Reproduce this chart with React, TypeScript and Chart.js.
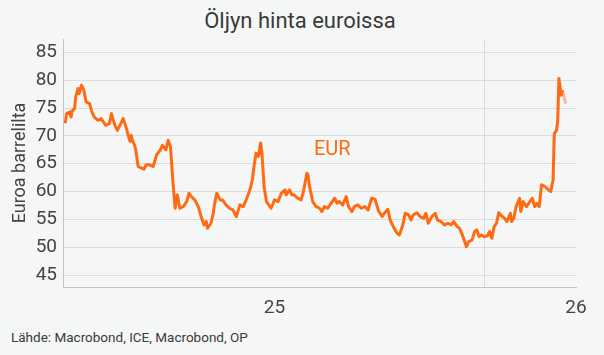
import React, { useEffect, useRef } from 'react';
import { Chart, registerables } from 'chart.js';

Chart.register(...registerables);

// Days since 1 Jan 2025
const days = [
  2, 3, 6, 7, 8, 10, 11, 13, 14, 16, 18, 20, 23, 25, 27, 30, 33, 36, 37, 40,
  42, 43, 45, 47, 50, 52, 55, 56, 58, 59, 60, 62, 63, 65, 68, 70, 72, 75, 78, 81,
  84, 86, 89, 91, 93, 95, 97, 99, 101, 104, 107, 109, 111, 114, 117, 120, 122, 124, 125, 128,
  130, 131, 133, 136, 138, 141, 144, 147, 150, 153, 156, 159, 162, 164, 165, 167, 169, 171, 172, 174,
  176, 180, 183, 186, 189, 192, 193, 196, 198, 200, 203, 206, 208, 211, 212, 213, 216, 219, 222, 224,
  226, 229, 232, 235, 237, 239, 242, 245, 247, 250, 252, 255, 258, 261, 264, 267, 270, 273, 276, 278,
  281, 283, 285, 289, 291, 294, 296, 299, 301, 303, 306, 309, 312, 314, 316, 319, 322, 324, 327, 330,
  333, 336, 338, 341, 343, 345, 347, 349, 351, 354, 356, 358, 360, 362, 364, 367, 369, 371, 373, 375,
  377, 380, 382, 384, 387, 388, 390, 392, 395, 396, 398, 401, 403, 406, 408, 410, 412, 414, 417, 420,
  422, 424, 425, 427, 428, 429, 431, 432, 433, 435,
];

// Brent crude in euros per barrel
const eurPrice = [
  72.3, 74.0, 74.3, 73.4, 74.5, 74.9, 77.0, 78.5, 77.6, 79.1, 78.2, 76.1, 75.8, 74.3, 73.4, 72.8, 73.1, 72.2, 71.9, 72.2,
  74.0, 73.1, 71.9, 71.0, 72.2, 73.1, 71.3, 70.4, 69.0, 70.1, 69.2, 68.3, 67.4, 64.5, 64.2, 64.0, 64.8, 64.8, 64.5, 66.6,
  67.4, 68.3, 67.5, 69.2, 68.0, 62.0, 57.0, 59.4, 57.0, 57.3, 58.2, 59.7, 59.1, 58.5, 57.3, 55.2, 54.0, 54.6, 53.4, 54.3,
  56.1, 57.6, 59.7, 58.5, 58.5, 57.6, 57.0, 56.7, 55.5, 57.6, 57.3, 58.8, 60.5, 62.3, 64.2, 66.9, 66.3, 68.7, 67.2, 60.8,
  58.2, 57.0, 58.5, 58.2, 59.7, 60.3, 59.4, 60.3, 59.4, 59.4, 58.8, 58.5, 60.0, 63.3, 63.0, 61.2, 58.2, 57.3, 57.0, 56.4,
  57.3, 57.0, 57.9, 58.8, 57.9, 58.2, 57.6, 59.1, 57.3, 56.4, 57.3, 57.6, 57.0, 57.3, 56.7, 58.8, 58.6, 56.5, 55.5, 56.1,
  56.8, 54.9, 54.0, 52.5, 52.2, 54.0, 56.1, 55.8, 54.9, 55.8, 56.2, 55.5, 55.2, 56.1, 54.3, 55.5, 56.1, 54.9, 54.6, 54.0,
  54.3, 54.0, 54.6, 53.7, 53.4, 52.5, 51.3, 50.1, 51.0, 51.3, 52.8, 53.1, 51.9, 52.2, 51.9, 52.0, 52.8, 51.6, 53.7, 54.3,
  56.2, 55.5, 55.2, 54.6, 56.1, 54.6, 55.2, 57.3, 58.8, 56.4, 58.2, 57.3, 57.9, 58.8, 57.3, 57.9, 57.3, 61.2, 60.9, 60.3,
  60.0, 62.1, 70.4, 71.0, 72.8, 80.3, 77.3, 78.2, 77.3, 75.8,
];

const yTickValues = [45, 50, 55, 60, 65, 70, 75, 80, 85];
const xTickDays = [183, 365, 443.8];
const xTickLabels = ['25', '', '26'];
const yearStartDay = 365;

const ORANGE = '#ff6a13';
const ORANGE_LIGHT = 'rgba(255,106,19,0.45)';
const TEXT = '#444444';
const FONT = 'Roboto, "Noto Sans", sans-serif';

export default function App() {
  const ref = useRef<HTMLCanvasElement>(null);

  useEffect(() => {
    const canvas = ref.current;
    if (!canvas) return;
    const n = eurPrice.length;

    const labelPlugin = {
      id: 'eurLabel',
      afterDatasetsDraw(chart: any) {
        const { ctx, scales } = chart;
        const x = scales.x.getPixelForValue(233);
        const y = scales.y.getPixelForValue(67.4);
        ctx.save();
        ctx.fillStyle = ORANGE;
        ctx.font = '20px ' + FONT;
        ctx.textAlign = 'center';
        ctx.textBaseline = 'middle';
        ctx.fillText('EUR', x, y);
        ctx.restore();
      },
    };

    const chart = new Chart(canvas, {
      type: 'line',
      data: {
        datasets: [
          {
            label: 'EUR',
            data: days.map((d, i) => ({ x: d, y: eurPrice[i] })),
            borderColor: ORANGE,
            borderWidth: 3,
            pointRadius: 0,
            tension: 0,
            borderJoinStyle: 'round',
            segment: {
              borderColor: (c: any) => (c.p1DataIndex >= n - 2 ? ORANGE_LIGHT : ORANGE),
            },
          },
        ],
      },
      options: {
        animation: false,
        responsive: true,
        maintainAspectRatio: false,
        layout: { padding: { top: 39, right: 28, bottom: 28, left: 0 } },
        plugins: {
          legend: { display: false },
          tooltip: { enabled: false },
          title: { display: false },
        },
        scales: {
          x: {
            type: 'linear',
            min: 0,
            max: 443.8,
            afterBuildTicks: (s: any) => {
              s.ticks = xTickDays.map((v) => ({ value: v }));
            },
            afterFit: (s: any) => {
              s.height = 40;
            },
            ticks: {
              autoSkip: false,
              maxRotation: 0,
              padding: 10,
              color: TEXT,
              font: { size: 19, family: FONT },
              callback: (v: any) => {
                const i = xTickDays.indexOf(Number(v));
                return i >= 0 ? xTickLabels[i] : '';
              },
            },
            grid: {
              drawTicks: false,
              color: (c: any) => (c.tick && c.tick.value === yearStartDay ? '#d8d8d8' : 'rgba(0,0,0,0)'),
            },
            border: { color: '#c4c4c4' },
          },
          y: {
            min: 42.85,
            max: 87.4,
            afterBuildTicks: (s: any) => {
              s.ticks = yTickValues.map((v) => ({ value: v }));
            },
            afterFit: (s: any) => {
              s.width = 63;
            },
            ticks: {
              padding: 6,
              color: TEXT,
              font: { size: 19, family: FONT },
            },
            grid: { drawTicks: false, color: '#dcdcdc' },
            border: { color: '#c4c4c4' },
            title: {
              display: true,
              text: 'Euroa barrelilta',
              color: TEXT,
              font: { size: 18, family: FONT },
              padding: { top: 10, bottom: 0 },
            },
          },
        },
      },
      plugins: [labelPlugin],
    } as any);

    return () => chart.destroy();
  }, []);

  return (
    <div
      style={{
        position: 'fixed',
        left: 0,
        top: 0,
        width: 604,
        height: 355,
        background: '#f5f7f7',
        overflow: 'hidden',
      }}
    >
      <div
        style={{
          position: 'absolute',
          left: 0,
          width: 600,
          top: 6,
          textAlign: 'center',
          fontFamily: FONT,
          fontSize: 22,
          lineHeight: '30px',
          color: '#3a3a3a',
        }}
      >
        Öljyn hinta euroissa
      </div>
      <div
        style={{
          position: 'absolute',
          left: 11,
          top: 328,
          fontFamily: FONT,
          fontSize: 13.5,
          lineHeight: '18px',
          color: '#3a3a3a',
        }}
      >
        Lähde: Macrobond, ICE, Macrobond, OP
      </div>
      <div style={{ position: 'absolute', left: 0, top: 0, width: 604, height: 355 }}>
        <canvas ref={ref} />
      </div>
    </div>
  );
}
